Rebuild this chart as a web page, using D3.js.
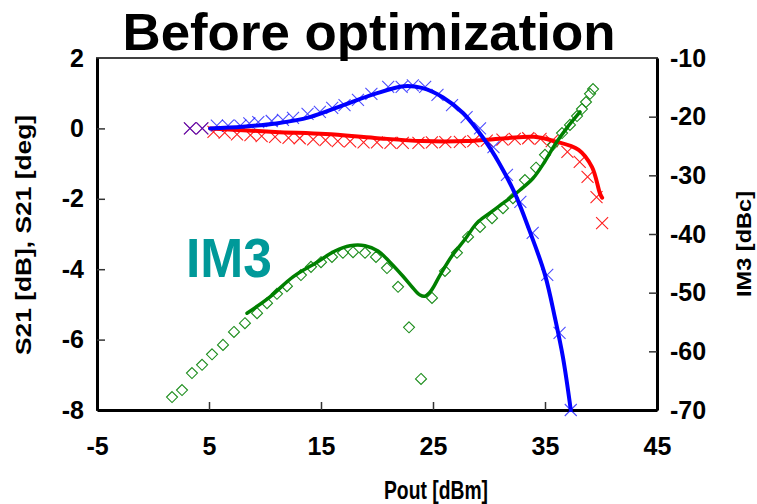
<!DOCTYPE html>
<html>
<head>
<meta charset="utf-8">
<script src="https://cdn.jsdelivr.net/npm/d3@7"></script>
<style>
  html, body { margin: 0; padding: 0; background: #fff; }
  svg { display: block; font-family: "Liberation Sans", Arial, sans-serif; }
</style>
</head>
<body>
<svg id="chart" width="757" height="504"></svg>
<script>
// ---- data -------------------------------------------------------------
const xTicks = [-5, 5, 15, 25, 35, 45];
const leftTicks = [2, 0, -2, -4, -6, -8];
const rightTicks = [-10, -20, -30, -40, -50, -60, -70];

// S21 phase [deg] measured (x markers)
const phasePout = [3.3, 4.4, 5.7, 6.7, 7.8, 8.6, 9.4, 10.6, 11.6, 12.5, 13.8, 14.9, 16.0, 17.1, 18.3, 19.5, 21.0, 22.2, 23.2, 24.3, 25.4, 26.7, 28.0, 29.2, 30.4, 31.6, 32.8, 33.9, 35.2, 36.3, 37.3];
const phaseVal  = [0.0, 0.0, 0.08, 0.08, 0.08, 0.14, 0.18, 0.21, 0.24, 0.30, 0.41, 0.47, 0.58, 0.66, 0.81, 0.98, 1.18, 1.18, 1.22, 1.18, 0.95, 0.66, 0.32, 0.0, -0.53, -1.32, -2.09, -2.97, -4.16, -5.81, -8.0];
// S21 phase [deg] fitted curve
const phaseFitPout = [5.1, 8, 11, 14, 17, 19.8, 22.4, 24, 25.9, 27.7, 29.5, 30.9, 32.3, 33.6, 35.0, 35.9, 36.6, 37.3];
const phaseFitVal  = [0.0, 0.05, 0.14, 0.32, 0.66, 0.98, 1.2, 1.15, 0.88, 0.43, -0.28, -0.98, -1.84, -2.89, -4.16, -5.4, -6.5, -8.0];

// S21 gain [dB] measured (x markers)
const gainPout = [3.3, 4.4, 5.4, 6.4, 7.5, 8.7, 9.7, 10.9, 12.1, 13.1, 14.3, 15.4, 16.5, 17.6, 18.8, 20.0, 21.2, 22.3, 23.7, 24.9, 26.1, 27.4, 28.6, 29.8, 31.2, 32.3, 33.5, 34.6, 35.6, 37.0, 38.1, 38.8, 39.6, 40.1];
const gainVal  = [0.0, 0.0, -0.1, -0.12, -0.17, -0.19, -0.22, -0.24, -0.27, -0.28, -0.31, -0.33, -0.36, -0.37, -0.4, -0.4, -0.41, -0.41, -0.41, -0.4, -0.39, -0.38, -0.36, -0.35, -0.32, -0.3, -0.28, -0.3, -0.36, -0.67, -0.95, -1.38, -1.95, -2.69];
// S21 gain [dB] fitted curve
const gainFitPout = [5.1, 10.9, 15.4, 19.8, 24, 28, 31.5, 34, 35.8, 38, 39.2, 39.9, 40.1];
const gainFitVal  = [0.0, -0.1, -0.16, -0.27, -0.36, -0.36, -0.28, -0.24, -0.36, -0.61, -1.1, -1.84, -1.97];

// IM3 [dBc] measured (diamonds)
const im3Pout = [1.7, 2.59, 3.48, 4.38, 5.27, 6.25, 7.23, 8.21, 9.29, 10.18, 11.07, 11.96, 13.21, 14.11, 15.0, 15.98, 16.96, 17.86, 18.93, 19.91, 20.89, 21.88, 22.86, 23.93, 24.91, 26.07, 27.14, 28.13, 29.2, 30.27, 31.25, 32.14, 33.21, 34.2, 35.0, 35.71, 36.52, 37.23, 37.86, 38.3, 38.66, 39.02, 39.29];
const im3Val  = [-67.8, -66.6, -63.7, -62.3, -60.5, -58.9, -56.7, -55.2, -53.5, -51.8, -50.2, -48.9, -47.0, -45.6, -44.8, -43.9, -43.2, -43.1, -43.2, -43.9, -45.8, -49.0, -55.9, -64.7, -50.9, -46.3, -43.2, -40.5, -38.8, -37.3, -35.6, -33.9, -30.8, -28.7, -26.5, -24.8, -22.8, -21.4, -19.9, -18.7, -17.5, -16.1, -15.3];
// IM3 [dBc] fitted curve
const im3FitPout = [8.39, 10.45, 12.5, 14.64, 16.25, 17.59, 18.93, 20.09, 21.16, 22.32, 23.21, 23.84, 24.29, 24.82, 25.63, 26.7, 27.86, 28.93, 30.09, 31.43, 32.77, 33.93, 35.0, 35.98, 36.96, 38.13];
const im3FitVal  = [-53.5, -50.7, -47.3, -44.8, -42.9, -42.0, -42.0, -42.9, -44.8, -47.2, -49.2, -50.4, -50.6, -49.7, -47.0, -43.7, -40.9, -38.1, -36.4, -34.5, -32.5, -30.5, -27.6, -24.5, -21.9, -19.2];

// ---- layout -----------------------------------------------------------
const svg = d3.select("#chart");
const L = 97, R = 657, T = 58, B = 410;

const x = d3.scaleLinear().domain([-5, 45]).range([L, R]);
const yL = d3.scaleLinear().domain([-8, 2]).range([B, T]);
const yR = d3.scaleLinear().domain([-70, -10]).range([B, T]);

const zip = (a, b) => a.map((v, i) => [v, b[i]]);
const plain = d => String(d);   // keep an ASCII hyphen for negatives

// plot frame
svg.append("rect")
  .attr("x", L).attr("y", T).attr("width", R - L).attr("height", B - T)
  .attr("fill", "none").attr("stroke", "#404040").attr("stroke-width", 2);

// axes (ticks pointing inwards)
const bottomAxis = d3.axisBottom(x).tickValues(xTicks).tickSizeInner(-8).tickSizeOuter(0).tickFormat(plain);
const leftAxis = d3.axisLeft(yL).tickValues(leftTicks).tickSizeInner(-8).tickSizeOuter(0).tickFormat(plain);
const rightAxis = d3.axisRight(yR).tickValues(rightTicks).tickSizeInner(-8).tickSizeOuter(0).tickFormat(plain);

function styleAxis(g) {
  g.select(".domain").attr("stroke", "#000").attr("stroke-width", 3);
  g.selectAll(".tick line").attr("stroke", "#333").attr("stroke-width", 1.5);
  g.selectAll(".tick text")
    .attr("font-family", "Liberation Sans, Arial, sans-serif")
    .attr("font-weight", "bold").attr("font-size", 25).attr("fill", "#000");
}

const gB = svg.append("g").attr("transform", `translate(0,${B})`).call(bottomAxis).call(styleAxis);
gB.selectAll(".tick text").attr("y", 27).attr("dy", "0.71em");
gB.selectAll(".tick").filter(d => d === -5 || d === 45).select("line").remove();

const gL = svg.append("g").attr("transform", `translate(${L},0)`).call(leftAxis).call(styleAxis);
gL.selectAll(".tick text").attr("x", -13);
gL.selectAll(".tick").filter(d => d === 2 || d === -8).select("line").remove();

const gR = svg.append("g").attr("transform", `translate(${R},0)`).call(rightAxis).call(styleAxis);
gR.selectAll(".tick text").attr("x", 13);
gR.selectAll(".tick").filter(d => d === -10 || d === -70).select("line").remove();

// ---- marks ------------------------------------------------------------
const plot = svg.append("g");
plot.append("clipPath").attr("id", "clip")
  .append("rect").attr("x", L).attr("y", T - 2).attr("width", R - L).attr("height", B - T + 4);

const cross = s => `M${-s},${-s}L${s},${s}M${-s},${s}L${s},${-s}`;
const diamond = s => `M0,${-s}L${s},0L0,${s}L${-s},0Z`;

// gain markers
plot.selectAll(".gainPt").data(zip(gainPout, gainVal)).join("path")
  .attr("class", "gainPt")
  .attr("transform", d => `translate(${x(d[0])},${yL(d[1])})`)
  .attr("d", cross(6)).attr("fill", "none").attr("stroke", "#ff2020").attr("stroke-width", 1.1);

// phase markers (semi-transparent, so where they sit on the gain markers they mix to purple)
plot.selectAll(".phasePt").data(zip(phasePout, phaseVal)).join("path")
  .attr("class", "phasePt")
  .attr("transform", d => `translate(${x(d[0])},${yL(d[1])})`)
  .attr("d", cross(6)).attr("fill", "none").attr("stroke", "#0000ff").attr("stroke-width", 1.1)
  .attr("stroke-opacity", 0.7);

// IM3 markers
plot.selectAll(".im3Pt").data(zip(im3Pout, im3Val)).join("path")
  .attr("class", "im3Pt")
  .attr("transform", d => `translate(${x(d[0])},${yR(d[1])})`)
  .attr("d", diamond(5.5)).attr("fill", "none").attr("stroke", "#1a8c1a").attr("stroke-width", 1.1);

// fitted curves
const lineL = d3.line().x(d => x(d[0])).y(d => yL(d[1])).curve(d3.curveCatmullRom.alpha(0.5));
const lineR = d3.line().x(d => x(d[0])).y(d => yR(d[1])).curve(d3.curveCatmullRom.alpha(0.5));

const curves = plot.append("g").attr("clip-path", "url(#clip)");
curves.append("path").datum(zip(gainFitPout, gainFitVal))
  .attr("d", lineL).attr("fill", "none").attr("stroke", "#ff0000").attr("stroke-width", 4)
  .attr("stroke-linejoin", "round").attr("stroke-linecap", "round");
curves.append("path").datum(zip(im3FitPout, im3FitVal))
  .attr("d", lineR).attr("fill", "none").attr("stroke", "#008000").attr("stroke-width", 3.5)
  .attr("stroke-linejoin", "round").attr("stroke-linecap", "round");
curves.append("path").datum(zip(phaseFitPout, phaseFitVal))
  .attr("d", lineL).attr("fill", "none").attr("stroke", "#0000ff").attr("stroke-width", 4)
  .attr("stroke-linejoin", "round").attr("stroke-linecap", "round");

// ---- text -------------------------------------------------------------
svg.append("text")
  .attr("x", 369).attr("y", 50).attr("text-anchor", "middle")
  .attr("font-weight", "bold").attr("font-size", 52)
  .attr("textLength", 493).attr("lengthAdjust", "spacingAndGlyphs")
  .text("Before optimization");

svg.append("text")
  .attr("x", 229).attr("y", 277).attr("text-anchor", "middle")
  .attr("font-weight", "bold").attr("font-size", 55).attr("fill", "#009999")
  .attr("textLength", 86).attr("lengthAdjust", "spacingAndGlyphs")
  .text("IM3");

svg.append("text")
  .attr("x", 436).attr("y", 499).attr("text-anchor", "middle")
  .attr("font-weight", "bold").attr("font-size", 26)
  .attr("textLength", 104).attr("lengthAdjust", "spacingAndGlyphs")
  .text("Pout [dBm]");

svg.append("text")
  .attr("transform", "translate(31,235) rotate(-90)").attr("text-anchor", "middle")
  .attr("font-weight", "bold").attr("font-size", 22)
  .attr("textLength", 240).attr("lengthAdjust", "spacingAndGlyphs")
  .text("S21 [dB], S21 [deg]");

svg.append("text")
  .attr("transform", "translate(751,244) rotate(-90)").attr("text-anchor", "middle")
  .attr("font-weight", "bold").attr("font-size", 21)
  .attr("textLength", 106).attr("lengthAdjust", "spacingAndGlyphs")
  .text("IM3 [dBc]");
</script>
</body>
</html>
